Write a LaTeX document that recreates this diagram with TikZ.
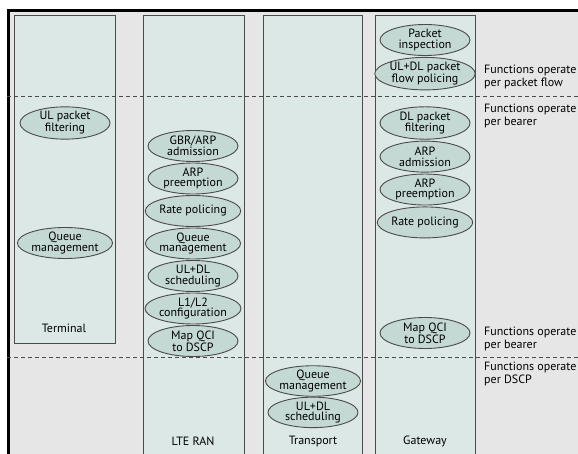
\documentclass[tikz,border=0pt]{standalone}
\usepackage{fontspec}
\setmainfont{PT Sans}
\usetikzlibrary{positioning,shapes.geometric}
\definecolor{panel}{RGB}{230,230,230}
\definecolor{colfill}{RGB}{220,232,229}
\definecolor{funcfill}{RGB}{196,217,212}
\definecolor{edge}{RGB}{75,75,75}
\begin{document}
\begin{tikzpicture}[x=1pt,y=-1pt]
    \tikzstyle{column} = [rectangle, draw=edge, fill=colfill, line width=1pt, anchor=north west, inner sep=0pt]
    \tikzstyle{func} = [ellipse, draw=edge, fill=funcfill, line width=0.9pt, minimum width=90pt, minimum height=31pt, inner sep=0pt, align=center, font=\fontsize{12}{10.5}\selectfont]
    \tikzstyle{sep} = [edge, line width=1pt, dash pattern=on 4pt off 3pt]
    \tikzstyle{caption} = [font=\fontsize{12}{12}\selectfont]
    \tikzstyle{note} = [anchor=west, align=left, inner sep=0pt, font=\fontsize{12}{12.5}\selectfont]

    \clip (0,0) rectangle (578,454);
    \fill[panel] (7,10) rectangle (600,480);
    \draw[line width=3pt] (8,480) -- (8,11) -- (600,11);

    % columns
    \node [column, minimum width=101pt, minimum height=328pt] (terminal) at (14,15) {};
    \node [column, minimum width=101pt, minimum height=460pt] (ran) at (143,15) {};
    \node [column, minimum width=99pt, minimum height=460pt] (transport) at (263,15) {};
    \node [column, minimum width=100pt, minimum height=460pt] (gateway) at (375,15) {};

    % separators
    \coordinate (sepa) at (7,97);
    \coordinate (sepb) at (7,357);
    \draw[sep] (sepa) -- ++(600,0);
    \draw[sep] (sepb) -- ++(600,0);

    % terminal
    \node [func] (termfilter) at (65,123) {UL packet\\filtering};
    \node [func] (termqueue) at (65,243) {Queue\\management};
    \node [caption] (termlabel) at (64,328) {Terminal};

    % LTE RAN
    \node [func] (ranadm) at (193,146) {GBR/ARP\\admission};
    \node [func, below=0.6pt of ranadm] (ranpre) {ARP\\preemption};
    \node [func, below=0.6pt of ranpre] (ranrate) {Rate policing};
    \node [func, below=0.6pt of ranrate] (ranqueue) {Queue\\management};
    \node [func, below=0.6pt of ranqueue] (ransched) {UL+DL\\scheduling};
    \node [func, below=0.6pt of ransched] (ranconf) {L1/L2\\configuration};
    \node [func, below=0.6pt of ranconf] (ranmap) {Map QCI\\to DSCP};
    \node [caption] (ranlabel) at (193,441) {LTE RAN};

    % transport
    \node [func, minimum height=30pt] (trqueue) at (313,381) {Queue\\management};
    \node [func, minimum height=30pt, below=0pt of trqueue] (trsched) {UL+DL\\scheduling};
    \node [caption] (trlabel) at (313,441) {Transport};

    % gateway
    \node [func] (gwinsp) at (425,40) {Packet\\inspection};
    \node [func, below=1pt of gwinsp] (gwflow) {UL+DL packet\\flow policing};
    \node [func] (gwfilter) at (425,123) {DL packet\\filtering};
    \node [func, below=1pt of gwfilter] (gwadm) {ARP\\admission};
    \node [func, below=1pt of gwadm] (gwpre) {ARP\\preemption};
    \node [func, below=1pt of gwpre] (gwrate) {Rate policing};
    \node [func] (gwmap) at (425,333) {Map QCI\\to DSCP};
    \node [caption] (gwlabel) at (425,441) {Gateway};

    % notes
    \node [note] (noteflow) at (484,77) {Functions operate\\per packet flow};
    \node [note] (notebearer) at (484,116) {Functions operate\\per bearer};
    \node [note] (notebearerb) at (484,339) {Functions operate\\per bearer};
    \node [note] (notedscp) at (484,374) {Functions operate\\per DSCP};
\end{tikzpicture}
\end{document}
